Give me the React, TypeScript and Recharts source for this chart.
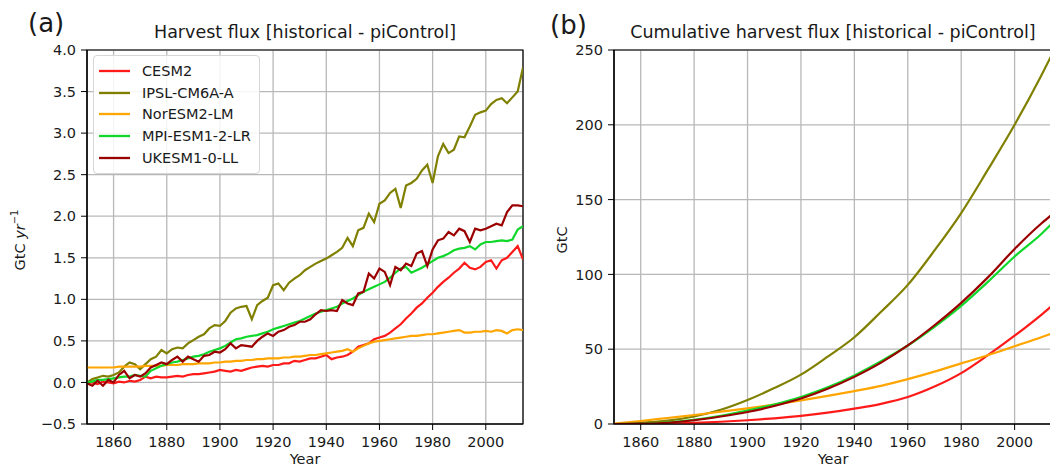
import { LineChart, Line, XAxis, YAxis, CartesianGrid, Legend, ReferenceArea } from 'recharts';

// annual harvest flux, read every 2 years
const fluxYears = [
  1850, 1852, 1854, 1856, 1858, 1860, 1862, 1864, 1866, 1868, 1870, 1872, 1874, 1876, 1878, 1880, 1882,
  1884, 1886, 1888, 1890, 1892, 1894, 1896, 1898, 1900, 1902, 1904, 1906, 1908, 1910, 1912, 1914, 1916,
  1918, 1920, 1922, 1924, 1926, 1928, 1930, 1932, 1934, 1936, 1938, 1940, 1942, 1944, 1946, 1948, 1950,
  1952, 1954, 1956, 1958, 1960, 1962, 1964, 1966, 1968, 1970, 1972, 1974, 1976, 1978, 1980, 1982, 1984,
  1986, 1988, 1990, 1992, 1994, 1996, 1998, 2000, 2002, 2004, 2006, 2008, 2010, 2012, 2014,
];

const cesm2Flux = [
  -0.01, 0.0, -0.02, 0.01, 0.0, -0.01, 0.01, 0.0, 0.02, 0.01, 0.03, 0.07, 0.05, 0.07, 0.06, 0.06, 0.07,
  0.08, 0.07, 0.09, 0.1, 0.1, 0.11, 0.12, 0.13, 0.15, 0.14, 0.13, 0.15, 0.14, 0.16, 0.18, 0.19, 0.2,
  0.19, 0.21, 0.21, 0.23, 0.23, 0.26, 0.25, 0.27, 0.29, 0.29, 0.31, 0.33, 0.28, 0.3, 0.31, 0.33, 0.37,
  0.43, 0.45, 0.47, 0.52, 0.54, 0.56, 0.6, 0.65, 0.7, 0.77, 0.83, 0.9, 0.95, 1.02, 1.08, 1.15, 1.21,
  1.26, 1.32, 1.37, 1.44, 1.38, 1.36, 1.39, 1.45, 1.47, 1.37, 1.47, 1.5, 1.57, 1.64, 1.48,
];

const ipslFlux = [
  0.0, 0.04, 0.06, 0.08, 0.07, 0.09, 0.12, 0.19, 0.24, 0.22, 0.16, 0.22, 0.28, 0.31, 0.39, 0.35, 0.4,
  0.42, 0.41, 0.47, 0.51, 0.55, 0.58, 0.65, 0.69, 0.68, 0.74, 0.84, 0.89, 0.91, 0.92, 0.76, 0.93, 0.98,
  1.02, 1.17, 1.19, 1.11, 1.2, 1.25, 1.29, 1.35, 1.39, 1.43, 1.46, 1.49, 1.53, 1.57, 1.62, 1.74, 1.64,
  1.83, 1.86, 2.03, 1.93, 2.15, 2.19, 2.28, 2.33, 2.1, 2.37, 2.4, 2.45, 2.55, 2.62, 2.4, 2.72, 2.87,
  2.76, 2.8, 2.96, 2.95, 3.08, 3.22, 3.25, 3.27, 3.35, 3.4, 3.42, 3.36, 3.43, 3.5, 3.79,
];

const noresmFlux = [
  0.18, 0.18, 0.18, 0.18, 0.18, 0.18, 0.19, 0.19, 0.19, 0.19, 0.19, 0.2, 0.2, 0.2, 0.2, 0.21, 0.21,
  0.21, 0.22, 0.22, 0.22, 0.23, 0.23, 0.23, 0.24, 0.24, 0.25, 0.25, 0.26, 0.26, 0.27, 0.27, 0.28, 0.28,
  0.29, 0.29, 0.29, 0.3, 0.3, 0.31, 0.31, 0.32, 0.33, 0.33, 0.34, 0.35, 0.36, 0.37, 0.38, 0.4, 0.37,
  0.41, 0.44, 0.47, 0.49, 0.5, 0.51, 0.52, 0.53, 0.54, 0.55, 0.56, 0.56, 0.57, 0.58, 0.58, 0.59, 0.6,
  0.61, 0.62, 0.63, 0.6, 0.6, 0.61, 0.61, 0.62, 0.61, 0.63, 0.62, 0.59, 0.63, 0.64, 0.63,
];

const mpiFlux = [
  0.0, 0.01, 0.03, 0.03, 0.04, 0.05, 0.06, 0.07, 0.07, 0.09, 0.08, 0.07, 0.14, 0.17, 0.2, 0.22, 0.24,
  0.25, 0.27, 0.29, 0.31, 0.32, 0.34, 0.37, 0.39, 0.41, 0.44, 0.48, 0.52, 0.53, 0.55, 0.56, 0.57, 0.59,
  0.61, 0.64, 0.66, 0.68, 0.7, 0.72, 0.74, 0.77, 0.8, 0.83, 0.85, 0.87, 0.89, 0.91, 0.95, 0.98, 1.01,
  1.05, 1.09, 1.12, 1.15, 1.18, 1.21, 1.26, 1.32, 1.37, 1.39, 1.32, 1.35, 1.38, 1.42, 1.46, 1.5, 1.52,
  1.55, 1.59, 1.61, 1.62, 1.64, 1.6, 1.66, 1.69, 1.69, 1.7, 1.71, 1.7, 1.72, 1.84, 1.88,
];

const ukesmFlux = [
  -0.01, -0.04, 0.02, -0.04, 0.03, 0.0, 0.09, 0.14, 0.05, 0.09, 0.07, 0.11, 0.18, 0.21, 0.24, 0.22, 0.27,
  0.31, 0.25, 0.31, 0.28, 0.25, 0.32, 0.33, 0.37, 0.36, 0.4, 0.47, 0.41, 0.45, 0.44, 0.43, 0.5, 0.55,
  0.59, 0.56, 0.61, 0.63, 0.67, 0.69, 0.73, 0.73, 0.76, 0.82, 0.87, 0.86, 0.87, 0.86, 0.99, 0.95, 0.93,
  1.07, 1.09, 1.31, 1.25, 1.37, 1.33, 1.17, 1.39, 1.35, 1.43, 1.4, 1.55, 1.58, 1.4, 1.6, 1.71, 1.73,
  1.81, 1.77, 1.85, 1.82, 1.69, 1.85, 1.83, 1.85, 1.88, 1.91, 1.89, 2.05, 2.13, 2.13, 2.12,
];

// cumulative harvest flux (GtC)
const cumYears = [1850, 1860, 1870, 1880, 1890, 1900, 1910, 1920, 1930, 1940, 1950, 1960, 1970, 1980, 1990, 2000, 2010, 2014];
const cesm2Cum = [0, 0, 0.2, 0.7, 1.5, 2.5, 3.8, 5.4, 7.6, 10.3, 13.5, 18, 25, 34, 46, 59, 73, 79];
const ipslCum = [0, 0.8, 2.2, 5, 9.5, 16, 24, 33, 45, 58, 75, 93, 116, 141, 170, 200, 233, 247];
const noresmCum = [0.2, 2, 4, 6, 8.2, 10.5, 13, 15.8, 18.8, 22, 25.5, 30, 35, 40.5, 46, 52, 58, 60.5];
const mpiCum = [0, 0.3, 1, 2.8, 5.5, 9, 13, 18, 24.5, 32.5, 42, 52.5, 65, 79, 95, 112, 127, 134];
const ukesmCum = [0, 0.2, 0.8, 2.5, 5, 8, 12, 17, 23.5, 31.5, 41, 52.5, 66, 81, 98, 117, 134, 140];

const yearTicks = [1860, 1880, 1900, 1920, 1940, 1960, 1980, 2000];
const fluxTicks = [-0.5, 0, 0.5, 1, 1.5, 2, 2.5, 3, 3.5, 4];
const cumTicks = [0, 50, 100, 150, 200, 250];

const models = [
  { name: 'CESM2', color: '#ff1a1a', flux: cesm2Flux, cum: cesm2Cum },
  { name: 'IPSL-CM6A-A', color: '#808000', flux: ipslFlux, cum: ipslCum },
  { name: 'NorESM2-LM', color: '#ffa500', flux: noresmFlux, cum: noresmCum },
  { name: 'MPI-ESM1-2-LR', color: '#10d82a', flux: mpiFlux, cum: mpiCum },
  { name: 'UKESM1-0-LL', color: '#9b0000', flux: ukesmFlux, cum: ukesmCum },
];

const FONT = 'DejaVu Sans, sans-serif';
const tickStyle = { fill: '#1a1a1a', fontSize: 14.5, fontFamily: FONT };

const fmtFlux = (v: number) => (v < 0 ? '\u2212' + Math.abs(v).toFixed(1) : v.toFixed(1));

// keep plotting order in the legend (recharts sorts by name otherwise)
const legendOrder = (item: any) => models.findIndex(m => m.name === item.value);

function LegendBox(props: any) {
  const { payload } = props;
  const items = [...payload].sort((a: any, b: any) => legendOrder(a) - legendOrder(b));
  return (
    <div
      style={{
        border: '1px solid #d6d6d6',
        borderRadius: 4,
        background: 'rgba(255,255,255,0.85)',
        padding: '4px 0 5px 5px',
        width: 160,
        fontFamily: FONT,
        fontSize: 14.5,
        color: '#1a1a1a',
      }}
    >
      {items.map((e: any) => (
        <div key={e.value} style={{ display: 'flex', alignItems: 'center', height: 21.7 }}>
          <svg width={31} height={4} style={{ marginRight: 12 }}>
            <line x1={0} y1={2} x2={31} y2={2} stroke={e.color} strokeWidth={2.3} />
          </svg>
          <span>{e.value}</span>
        </div>
      ))}
    </div>
  );
}

export default function App() {
  const fluxRows = models.map(m => fluxYears.map((y, i) => ({ year: y, v: m.flux[i] })));
  const cumRows = models.map(m => cumYears.map((y, i) => ({ year: y, v: m.cum[i] })));

  return (
    <div style={{ position: 'absolute', left: 0, top: 0, width: 1050, height: 470, overflow: 'hidden', background: '#fff' }}>
      <div style={{ position: 'absolute', left: 0, top: 0 }}>
        <LineChart width={530} height={470} margin={{ top: 50, right: 7, bottom: 16, left: 37 }}>
          <CartesianGrid stroke="#b8b8b8" strokeWidth={1.3} />
          <XAxis
            type="number"
            dataKey="year"
            domain={[1850, 2014]}
            ticks={yearTicks}
            allowDataOverflow
            height={30}
            tick={tickStyle}
            tickSize={6}
            tickMargin={7}
            axisLine={{ stroke: '#000', strokeWidth: 1.2 }}
            tickLine={{ stroke: '#000' }}
          />
          <YAxis
            type="number"
            domain={[-0.5, 4]}
            ticks={fluxTicks}
            allowDataOverflow
            width={50}
            tick={tickStyle}
            tickFormatter={fmtFlux}
            tickSize={6}
            tickMargin={5}
            axisLine={{ stroke: '#000', strokeWidth: 1.2 }}
            tickLine={{ stroke: '#000' }}
          />
          <ReferenceArea x1={1850} x2={2014} y1={-0.5} y2={4} fill="none" stroke="#000" strokeWidth={1.2} />
          {models.map((m, i) => (
            <Line
              key={m.name}
              data={fluxRows[i]}
              dataKey="v"
              name={m.name}
              type="linear"
              stroke={m.color}
              strokeWidth={2.2}
              dot={false}
              isAnimationActive={false}
            />
          ))}
          <Legend
            layout="vertical"
            align="center"
            verticalAlign="middle"
            itemSorter={legendOrder}
            content={<LegendBox />}
            wrapperStyle={{ left: 93, top: 55, width: 167, height: 118 }}
          />
        </LineChart>
      </div>

      <div style={{ position: 'absolute', left: 530, top: 0 }}>
        <LineChart width={530} height={470} margin={{ top: 50, right: 8, bottom: 16, left: 34 }}>
          <CartesianGrid stroke="#b8b8b8" strokeWidth={1.3} />
          <XAxis
            type="number"
            dataKey="year"
            domain={[1850, 2014]}
            ticks={yearTicks}
            allowDataOverflow
            height={30}
            tick={tickStyle}
            tickSize={6}
            tickMargin={7}
            axisLine={{ stroke: '#000', strokeWidth: 1.2 }}
            tickLine={{ stroke: '#000' }}
          />
          <YAxis
            type="number"
            domain={[0, 250]}
            ticks={cumTicks}
            allowDataOverflow
            width={50}
            tick={tickStyle}
            tickSize={6}
            tickMargin={5}
            axisLine={{ stroke: '#000', strokeWidth: 1.2 }}
            tickLine={{ stroke: '#000' }}
          />
          <ReferenceArea x1={1850} x2={2014} y1={0} y2={250} fill="none" stroke="#000" strokeWidth={1.2} />
          {models.map((m, i) => (
            <Line
              key={m.name}
              data={cumRows[i]}
              dataKey="v"
              name={m.name}
              type="monotone"
              stroke={m.color}
              strokeWidth={2.2}
              dot={false}
              isAnimationActive={false}
            />
          ))}
        </LineChart>
      </div>

      <svg
        width={1050}
        height={470}
        style={{ position: 'absolute', left: 0, top: 0, pointerEvents: 'none' }}
        fontFamily={FONT}
        fill="#1a1a1a"
      >
        <text x={28} y={32} fontSize={26}>(a)</text>
        <text x={305} y={38} fontSize={17.5} textAnchor="middle">Harvest flux [historical - piControl]</text>
        <text x={305} y={464} fontSize={14.5} textAnchor="middle">Year</text>
        <text transform="translate(25,240) rotate(-90)" fontSize={14.5} textAnchor="middle">
          GtC <tspan fontStyle="italic">yr</tspan>
          <tspan fontSize={10} dy={-7}>{'\u22121'}</tspan>
        </text>

        <text x={550} y={34} fontSize={26}>(b)</text>
        <text x={833} y={38} fontSize={17.5} textAnchor="middle">Cumulative harvest flux [historical - piControl]</text>
        <text x={833} y={464} fontSize={14.5} textAnchor="middle">Year</text>
        <text transform="translate(567,240) rotate(-90)" fontSize={14.5} textAnchor="middle">GtC</text>
      </svg>
    </div>
  );
}
